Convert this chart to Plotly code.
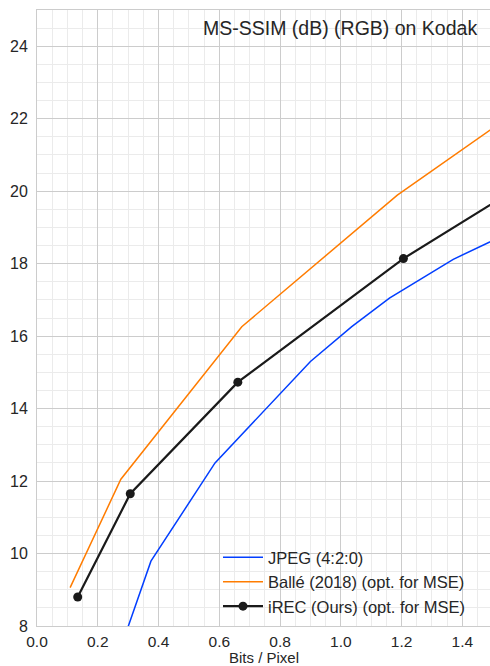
import plotly.graph_objects as go

# Data
jpeg_bpp = [0.28, 0.375, 0.586, 0.90, 1.036, 1.16, 1.37, 1.60]
jpeg_msssim = [7.5, 9.79, 12.5, 15.3, 16.26, 17.05, 18.12, 19.03]

balle_bpp = [0.109, 0.276, 0.674, 1.186, 1.80]
balle_msssim = [9.06, 12.05, 16.26, 19.89, 23.5]

irec_bpp = [0.134, 0.307, 0.661, 1.206, 1.90]
irec_msssim = [8.8, 11.65, 14.73, 18.14, 21.74]

x_ticks = [0.0, 0.2, 0.4, 0.6, 0.8, 1.0, 1.2, 1.4]
y_ticks = [8, 10, 12, 14, 16, 18, 20, 22, 24]

FONT = "Liberation Sans, Arial, sans-serif"
TXT = "#262626"

fig = go.Figure()
fig.add_trace(go.Scatter(x=jpeg_bpp, y=jpeg_msssim, mode="lines", name="JPEG (4:2:0)",
                         line=dict(color="#023eff", width=1.5)))
fig.add_trace(go.Scatter(x=balle_bpp, y=balle_msssim, mode="lines", name="Ballé (2018) (opt. for MSE)",
                         line=dict(color="#ff7c00", width=1.5)))
fig.add_trace(go.Scatter(x=irec_bpp, y=irec_msssim, mode="lines+markers", name="iREC (Ours) (opt. for MSE)",
                         line=dict(color="#1a1a1a", width=2.2),
                         marker=dict(color="#1a1a1a", size=9)))

fig.update_layout(
    width=490, height=666,
    margin=dict(l=37, r=0, t=10, b=40, autoexpand=False),
    paper_bgcolor="white", plot_bgcolor="white",
    font=dict(family=FONT, color=TXT, size=16),
    showlegend=True,
    legend=dict(x=(218 - 37) / 453, xanchor="left", y=(626 - 540) / 616, yanchor="top",
                bgcolor="rgba(0,0,0,0)", borderwidth=0, font=dict(size=16.5, color=TXT),
                itemwidth=40, tracegroupgap=0),
    annotations=[
        dict(text="MS-SSIM (dB) (RGB) on Kodak", xref="paper", yref="paper",
             x=(479 - 37) / 453, y=(626 - 28) / 616, xanchor="right", yanchor="middle",
             showarrow=False, font=dict(size=19.5, color=TXT, family=FONT)),
        dict(text="Bits / Pixel", xref="paper", yref="paper",
             x=0.5, y=(626 - 657) / 616, xanchor="center", yanchor="middle",
             showarrow=False, font=dict(size=15, color=TXT, family=FONT)),
    ],
)
fig.update_xaxes(
    range=[0, 1.491], tickvals=x_ticks, ticktext=[f"{v:.1f}" for v in x_ticks],
    showgrid=True, gridcolor="#cccccc", gridwidth=1,
    minor=dict(dtick=0.05, showgrid=True, gridcolor="#ebebeb", gridwidth=1),
    showline=True, linecolor="#cccccc", linewidth=1, mirror=True,
    zeroline=False, ticks="", ticklabelstandoff=1, automargin=False,
    tickfont=dict(size=15.5, color=TXT),
)
fig.update_yaxes(
    range=[8, 25], tickvals=y_ticks, ticktext=[str(v) for v in y_ticks],
    showgrid=True, gridcolor="#cccccc", gridwidth=1,
    minor=dict(dtick=0.5, showgrid=True, gridcolor="#ebebeb", gridwidth=1),
    showline=True, linecolor="#cccccc", linewidth=1, mirror=True,
    zeroline=False, ticks="", ticklabelstandoff=5, automargin=False,
    tickfont=dict(size=16, color=TXT),
)

fig.write_html("out.html", config={"displayModeBar": False},
               post_script="document.body.style.margin='0';document.body.style.padding='0';")
